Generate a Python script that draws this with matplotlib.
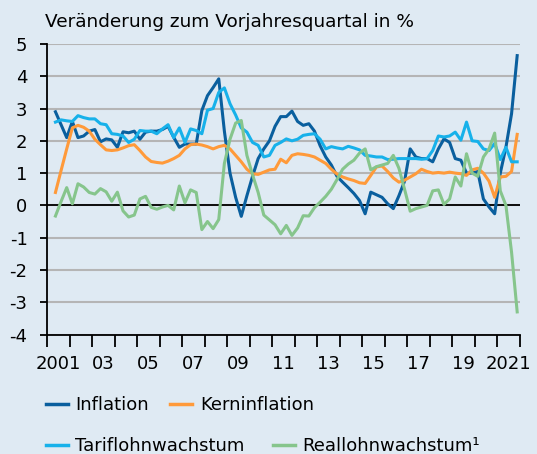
import numpy as np
import matplotlib.pyplot as plt
from matplotlib.lines import Line2D

plt.rcParams['font.family'] = ['DejaVu Sans']
plt.rcParams['axes.unicode_minus'] = False

# quarterly data, 2001Q2 .. 2021Q4
first_quarter = 2001.25
inflation = [2.9, 2.5, 2.1,
             2.6, 2.1, 2.15, 2.3,
             2.35, 1.97, 2.06, 2.03,
             1.8, 2.28, 2.25, 2.3,
             2.05, 2.27, 2.3, 2.3,
             2.35, 2.45, 2.11, 1.8,
             1.9, 1.9, 1.9, 2.94,
             3.4, 3.65, 3.92, 2.3,
             1.0, 0.25, -0.34, 0.3,
             0.9, 1.45, 1.75, 2.0,
             2.45, 2.75, 2.75, 2.92,
             2.6, 2.48, 2.53, 2.3,
             1.85, 1.5, 1.25, 0.9,
             0.72, 0.55, 0.37, 0.15,
             -0.26, 0.41, 0.33, 0.25,
             0.05, -0.1, 0.3, 0.75,
             1.75, 1.5, 1.45, 1.45,
             1.35, 1.75, 2.06, 1.95,
             1.45, 1.4, 1.0, 1.0,
             1.05, 0.2, -0.05, -0.26,
             1.0, 1.8, 2.84, 4.64]
kerninflation = [0.4, 1.08, 1.75,
                 2.4, 2.48, 2.42, 2.3,
                 2.05, 1.88, 1.72, 1.7,
                 1.72, 1.78, 1.85, 1.88,
                 1.7, 1.5, 1.36, 1.33,
                 1.31, 1.37, 1.45, 1.55,
                 1.75, 1.88, 1.9, 1.87,
                 1.82, 1.75, 1.82, 1.86,
                 1.75, 1.55, 1.35, 1.12,
                 0.98, 0.96, 1.03, 1.1,
                 1.12, 1.43, 1.32, 1.55,
                 1.6, 1.58, 1.55, 1.5,
                 1.4, 1.3, 1.12, 0.97,
                 0.88, 0.82, 0.77, 0.7,
                 0.68, 0.93, 1.19, 1.22,
                 1.05, 0.85, 0.72, 0.78,
                 0.88, 0.98, 1.12, 1.05,
                 1.0, 1.02, 1.0, 1.03,
                 1.0, 0.98, 0.93, 1.1,
                 1.15, 1.0, 0.75, 0.25,
                 0.88, 0.9, 1.05, 2.2]
tariflohn = [2.58, 2.65, 2.62,
             2.6, 2.78, 2.72, 2.68,
             2.68, 2.53, 2.5, 2.22,
             2.2, 2.15, 1.95, 2.05,
             2.32, 2.3, 2.3, 2.22,
             2.37, 2.5, 2.1, 2.4,
             1.95, 2.37, 2.32, 2.22,
             2.95, 3.0, 3.5, 3.64,
             3.15, 2.8, 2.4, 2.27,
             1.95, 1.86, 1.5, 1.55,
             1.86, 1.95, 2.06, 2.0,
             2.05, 2.17, 2.2, 2.22,
             2.05, 1.75, 1.82, 1.78,
             1.75, 1.83, 1.78, 1.72,
             1.55, 1.53, 1.5, 1.5,
             1.42, 1.43, 1.45, 1.45,
             1.45, 1.45, 1.43, 1.45,
             1.7, 2.15, 2.12, 2.15,
             2.27, 2.02, 2.58, 2.0,
             1.98, 1.75, 1.7, 1.92,
             1.42, 1.8, 1.35, 1.35]
reallohn = [-0.33, 0.12, 0.55,
            0.05, 0.67, 0.57, 0.4,
            0.35, 0.52, 0.42, 0.13,
            0.41, -0.17, -0.36, -0.3,
            0.2, 0.28, -0.06, -0.12,
            -0.05, 0.0, -0.14, 0.6,
            0.08, 0.48, 0.4, -0.75,
            -0.5, -0.72, -0.44, 1.3,
            2.05, 2.55, 2.63, 1.55,
            0.95, 0.4, -0.3, -0.45,
            -0.6, -0.88, -0.62, -0.93,
            -0.7, -0.32, -0.33, -0.07,
            0.1, 0.28, 0.5, 0.8,
            1.12, 1.28, 1.4, 1.62,
            1.75, 1.1, 1.2, 1.25,
            1.3, 1.55, 1.15, 0.5,
            -0.18, -0.1, -0.05, 0.0,
            0.45, 0.48, 0.03, 0.2,
            0.88, 0.6, 1.6, 1.0,
            0.9, 1.5, 1.75, 2.24,
            0.45, 0.0, -1.45, -3.3]

series_names = ['Inflation', 'Kerninflation', 'Tariflohnwachstum', 'Reallohnwachstum\u00b9']
colors = ['#0a5f9e', '#ff9a3a', '#17b1ea', '#86c58c']

year_labels = ['2001', '03', '05', '07', '09', '11', '13', '15', '17', '19', '2021']
label_years = [2001, 2003, 2005, 2007, 2009, 2011, 2013, 2015, 2017, 2019, 2021]

bg = '#dfeaf3'
n = len(inflation)
x = first_quarter + (np.arange(n) + 0.5) / 4

fig = plt.figure(figsize=(5.37, 4.54), dpi=100, facecolor=bg)
ax = fig.add_axes([47/537, 1 - 334.5/454, 473/537, 290.5/454])
ax.set_facecolor(bg)

for vals, c in zip([inflation, kerninflation, tariflohn, reallohn], colors):
    ax.plot(x, vals, color=c, lw=2.2, zorder=3)

ax.set_xlim(2001, 2022)
ax.set_ylim(-4, 5)
ax.set_yticks(range(-4, 6))
ax.yaxis.grid(True, color='#b5b5b5', lw=1.5, zorder=1)
ax.axhline(0, color='black', lw=1.3, zorder=2)

for s in ['top', 'right']:
    ax.spines[s].set_visible(False)
for s in ['left', 'bottom']:
    ax.spines[s].set_linewidth(1.3)

ax.set_xticks(range(2001, 2023))
ax.set_xticklabels([])
ax.set_xticks([y + 0.5 for y in label_years], minor=True)
ax.set_xticklabels(year_labels, minor=True)
ax.tick_params(axis='x', which='major', direction='out', length=8.5, width=1.3)
ax.tick_params(axis='x', which='minor', length=0, pad=15, labelsize=13)
ax.tick_params(axis='y', direction='out', length=5, width=1.3, pad=9, labelsize=13)

fig.text(45/537, 1 - 26.7/454, 'Veränderung zum Vorjahresquartal in %', fontsize=13.3, va='baseline')

# legend, two rows
legend_pos = [(46, 404, 75, 410.5), (170, 404, 200, 410.5), (46, 444.5, 75, 451), (273, 444.5, 302, 451)]
for name, c, (lx, ly, tx, ty) in zip(series_names, colors, legend_pos):
    fig.add_artist(Line2D([lx/537, (lx + 22)/537], [1 - ly/454, 1 - ly/454],
                          transform=fig.transFigure, color=c, lw=2.5))
    fig.text(tx/537, 1 - ty/454, name, fontsize=13, va='baseline')

plt.savefig('out.png', dpi=100, facecolor=bg)
